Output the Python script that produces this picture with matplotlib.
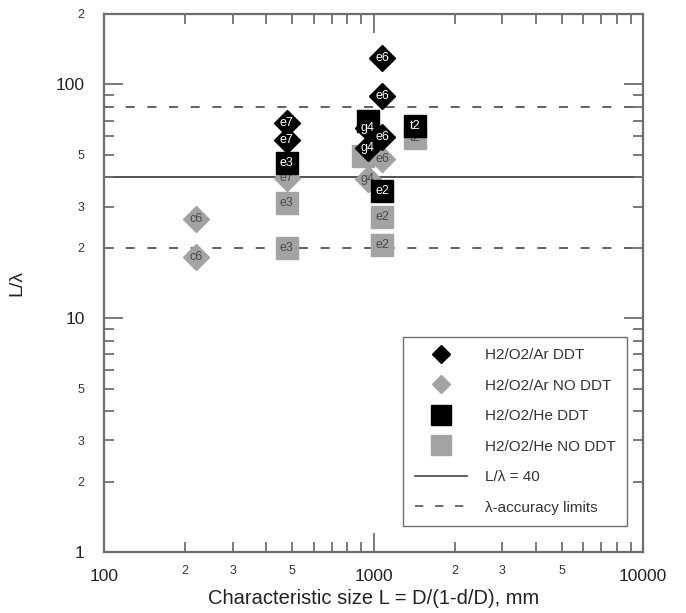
import matplotlib
matplotlib.use("Agg")
import matplotlib.pyplot as plt
from matplotlib.lines import Line2D
import numpy as np

plt.rcParams['font.family'] = ['Liberation Sans', 'DejaVu Sans']

# ---- data ----
ar_ddt_x = [476, 476, 1076, 1076, 954, 1076, 954]
ar_ddt_y = [68.6, 57.7, 129.3, 89.5, 65.1, 59.6, 53.5]
ar_ddt_lab = ["e7", "e7", "e6", "e6", "g4", "e6", "g4"]

ar_no_x = [219.5, 219.5, 476, 1076, 954]
ar_no_y = [26.6, 18.3, 39.7, 48.1, 39.5]
ar_no_lab = ["c6", "c6", "e7", "e6", "g4"]

he_ddt_x = [476, 954, 1076, 1426]
he_ddt_y = [46.0, 69.7, 35.0, 66.6]
he_ddt_lab = ["e3", "", "e2", "t2"]

he_no_x = [476, 476, 914, 1076, 1076, 1426]
he_no_y = [31.2, 19.9, 49.5, 27.1, 20.6, 59.0]
he_no_lab = ["e3", "e3", "", "e2", "e2", "t2"]

crit_value = 40
accuracy_limits = [20, 80]

x_major = [100, 1000, 10000]
x_major_lab = ["100", "1000", "10000"]
y_major = [1, 10, 100]
y_major_lab = ["1", "10", "100"]

BLACK = "#000000"
GRAY = "#a3a3a3"
AXC = "#6e6e6e"

fig = plt.figure(figsize=(6.86, 6.13), dpi=100)
ax = fig.add_axes([104/686, 1-552/613, 539/686, 538/613])
ax.set_xscale('log')
ax.set_yscale('log')
ax.set_xlim(100, 10000)
ax.set_ylim(1, 200)

# reference lines
ax.axhline(crit_value, color="#444444", lw=1.3, zorder=1)
for v in accuracy_limits:
    ax.axhline(v, color="#555555", lw=1.3, ls=(0, (5, 7)), zorder=1)

DS = 12.8  # diamond size
SS = 16    # square size

def draw(xs, ys, labs, marker, ms, fc, tc, z):
    ax.plot(xs, ys, ls='none', marker=marker, ms=ms, mfc=fc, mec=fc, zorder=z)
    for x, y, t in zip(xs, ys, labs):
        if t:
            ax.text(x, y, t, ha='center', va='center', fontsize=9, color=tc, zorder=z + 0.5)

draw(ar_no_x, ar_no_y, ar_no_lab, 'D', DS, GRAY, "#4a4a4a", 2)
draw(he_no_x, he_no_y, he_no_lab, 's', SS, GRAY, "#4a4a4a", 3)
draw(he_ddt_x, he_ddt_y, he_ddt_lab, 's', SS, BLACK, "white", 4)
draw(ar_ddt_x, ar_ddt_y, ar_ddt_lab, 'D', DS, BLACK, "white", 5)

# ticks
ax.set_xticks(x_major)
ax.set_xticklabels(x_major_lab)
xminor = [m * d for d in [100, 1000] for m in range(2, 10)]
ax.set_xticks(xminor, minor=True)
def xlab(v):
    d = 100 if v < 1000 else 1000
    m = int(round(v / d))
    return str(m) if m in (2, 3, 5) else ""
ax.set_xticklabels([xlab(v) for v in xminor], minor=True)

ax.set_yticks(y_major)
ax.set_yticklabels(y_major_lab)
yminor = [m * d for d in [1, 10] for m in range(2, 10)] + [200]
ax.set_yticks(yminor, minor=True)
def ylab(v):
    d = 1 if v < 10 else (10 if v < 100 else 100)
    m = int(round(v / d))
    return str(m) if m in (2, 3, 5) else ""
ax.set_yticklabels([ylab(v) for v in yminor], minor=True)

ax.tick_params(which='major', direction='in', length=14, width=1.3, color=AXC,
               top=True, right=True, labelsize=12.5, pad=12, labelcolor="#222222")
ax.tick_params(which='minor', direction='in', length=7, width=1.3, color=AXC,
               top=True, right=True, labelsize=9, pad=9, labelcolor="#333333")
ax.tick_params(axis='y', which='major', pad=14)
ax.tick_params(axis='y', which='minor', pad=14)

for s in ax.spines.values():
    s.set_color(AXC)
    s.set_linewidth(1.6)

ax.set_xlabel("Characteristic size L = D/(1-d/D), mm", fontsize=14.5, color="#222222", labelpad=4)
ax.set_ylabel("L/λ", fontsize=14, color="#222222", labelpad=22)

handles = [
    Line2D([], [], ls='none', marker='D', ms=9, mfc=BLACK, mec=BLACK),
    Line2D([], [], ls='none', marker='D', ms=9, mfc=GRAY, mec=GRAY),
    Line2D([], [], ls='none', marker='s', ms=14, mfc=BLACK, mec=BLACK),
    Line2D([], [], ls='none', marker='s', ms=14, mfc=GRAY, mec=GRAY),
    Line2D([], [], color="#444444", lw=1.2),
    Line2D([], [], color="#555555", lw=1.2, ls=(0, (5, 7))),
]
labels = ["H2/O2/Ar DDT", "H2/O2/Ar NO DDT", "H2/O2/He DDT", "H2/O2/He NO DDT",
          "L/λ = 40", "λ-accuracy limits"]
leg = ax.legend(handles, labels, loc='upper left', bbox_to_anchor=(0.555, 0.40),
                borderaxespad=0, fancybox=False, fontsize=11, labelspacing=1.08,
                handlelength=3.4, handletextpad=1.2, borderpad=0.75, framealpha=1)
leg.get_frame().set_edgecolor(AXC)
leg.get_frame().set_linewidth(1.0)
for t in leg.get_texts():
    t.set_color("#333333")

fig.savefig("out.png", dpi=100)
